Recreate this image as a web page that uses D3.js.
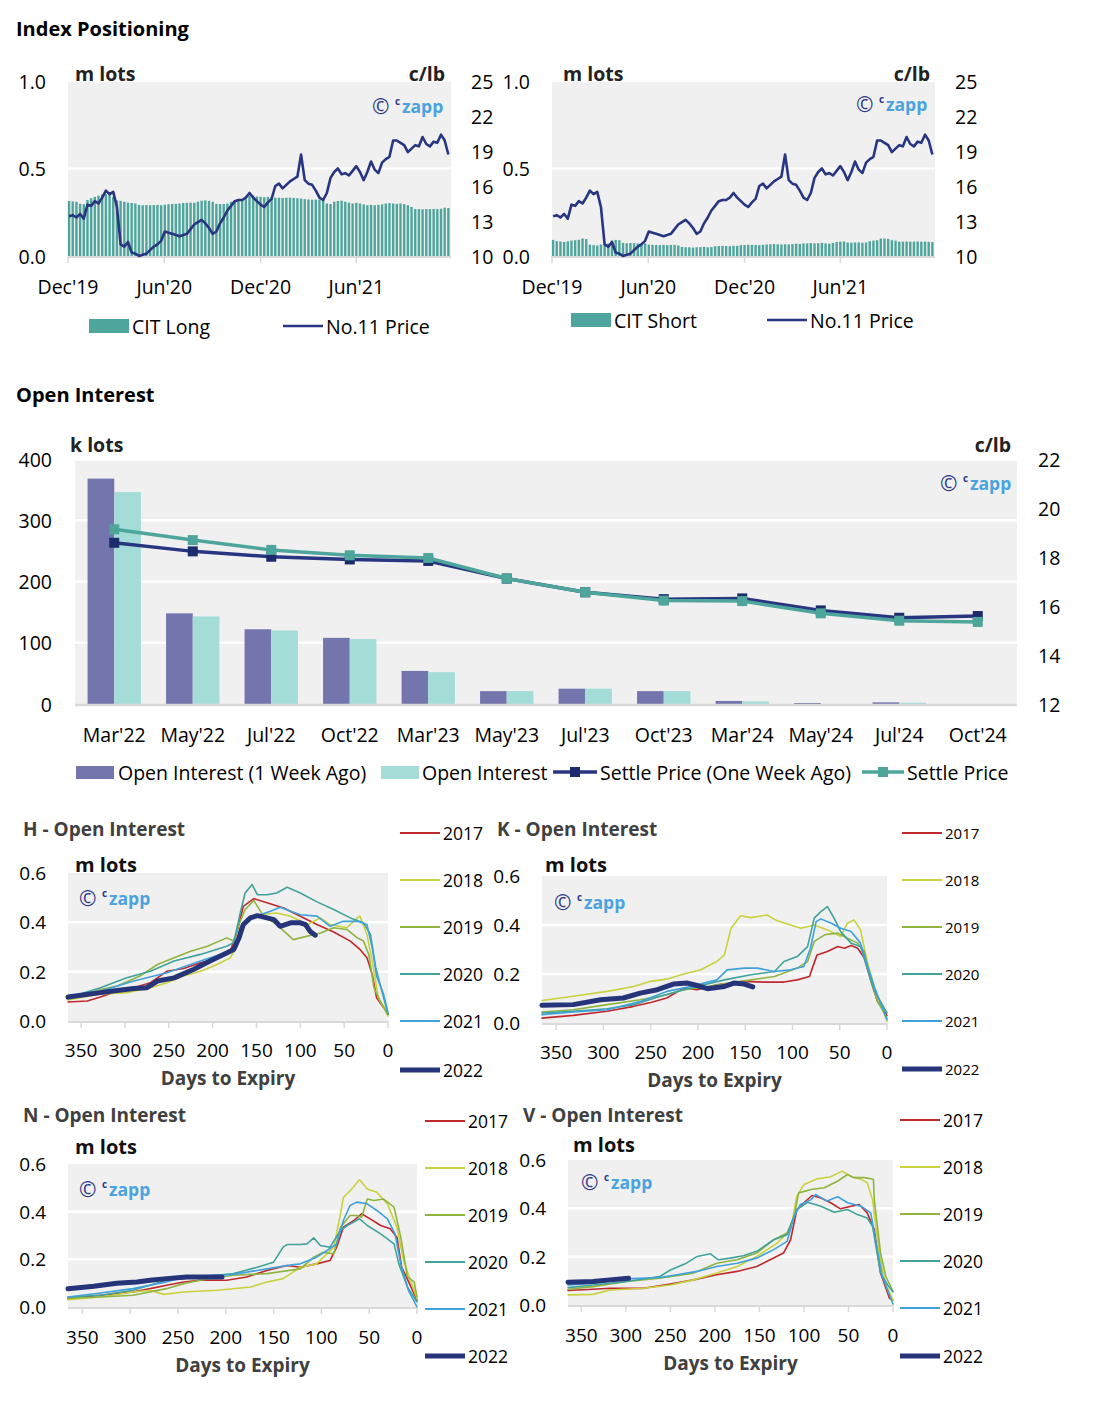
<!DOCTYPE html>
<html><head><meta charset="utf-8">
<script src="https://cdn.jsdelivr.net/npm/d3@7"></script>
<style>body{margin:0;background:#fff;} svg text{font-family:"Open Sans",sans-serif;}</style>
</head><body>
<svg id="c" width="1094" height="1402"></svg>
<script>
// ---------------- DATA ----------------
const weekStart = new Date(2019, 11, 3);
const topTickDates = [new Date(2019,11,1), new Date(2020,5,1), new Date(2020,11,1), new Date(2021,5,1)];
const topTickLabels = ["Dec'19","Jun'20","Dec'20","Jun'21"];

const no11Price = [13.4,13.5,13.3,13.6,13.2,14.4,14.3,14.7,14.5,15.0,15.6,15.3,15.5,14.2,11.0,10.8,11.2,10.3,10.2,10.0,
10.1,10.2,10.5,10.8,11.0,11.3,12.1,12.0,11.9,11.8,11.7,11.8,11.9,12.3,12.7,12.9,13.1,12.8,12.4,11.9,
12.1,12.8,13.3,13.9,14.3,14.7,14.8,14.8,15.0,15.4,15.0,14.7,14.4,14.2,14.6,14.9,16.0,16.2,15.8,16.1,
16.4,16.6,16.8,18.7,16.5,16.2,16.1,15.6,15.0,14.8,15.4,16.7,17.2,17.5,17.0,17.1,16.9,17.3,17.7,17.2,
16.5,17.2,18.1,17.4,17.1,18.0,18.3,18.5,19.9,19.9,19.7,19.5,18.9,19.2,19.5,19.4,20.2,19.6,19.4,19.8,
19.7,20.4,19.9,18.7];

const citLong = [0.314,0.312,0.31,0.298,0.296,0.32,0.33,0.338,0.345,0.352,0.355,0.35,0.338,0.318,0.315,0.31,
0.305,0.303,0.3,0.292,0.29,0.291,0.29,0.291,0.292,0.29,0.293,0.296,0.297,0.298,0.3,0.303,0.304,0.305,0.304,0.31,
0.316,0.318,0.315,0.31,0.298,0.297,0.297,0.3,0.31,0.312,0.315,0.32,0.325,0.342,0.345,0.34,0.338,0.336,0.338,
0.334,0.333,0.333,0.332,0.333,0.333,0.332,0.33,0.328,0.325,0.323,0.322,0.322,0.323,0.32,0.3,0.297,0.31,0.314,
0.316,0.31,0.305,0.3,0.304,0.3,0.295,0.29,0.292,0.29,0.292,0.295,0.3,0.302,0.3,0.298,0.3,0.296,0.29,0.28,
0.268,0.268,0.267,0.268,0.268,0.269,0.268,0.27,0.276,0.274];

const citShort = [0.092,0.085,0.083,0.08,0.084,0.088,0.09,0.093,0.1,0.097,0.065,0.062,0.06,0.066,0.072,0.07,
0.088,0.092,0.09,0.075,0.072,0.074,0.073,0.072,0.07,0.072,0.065,0.064,0.063,0.062,0.063,0.062,0.063,0.064,0.06,
0.052,0.05,0.05,0.048,0.05,0.051,0.052,0.05,0.051,0.056,0.057,0.058,0.057,0.056,0.058,0.058,
0.062,0.063,0.064,0.063,0.063,0.062,0.064,0.066,0.067,0.068,0.067,0.066,0.067,0.066,0.068,0.07,0.069,
0.072,0.072,0.074,0.072,0.073,0.075,0.072,0.07,0.074,0.08,0.082,0.083,0.077,0.076,0.077,0.078,0.076,0.077,
0.085,0.088,0.09,0.1,0.1,0.098,0.09,0.088,0.082,0.082,0.083,0.082,0.082,0.083,0.082,0.082,0.081,0.08];

const oiCats = ["Mar'22","May'22","Jul'22","Oct'22","Mar'23","May'23","Jul'23","Oct'23","Mar'24","May'24","Jul'24","Oct'24"];
const oiWeekAgo = [368,148,122,108,54,21,25,21,5,1.6,2.7,0];
const oiNow = [346,143,120,106,52,21,25,21,4.2,0,2.2,0];
const settleWeekAgo = [18.58,18.23,18.01,17.9,17.84,17.12,16.56,16.28,16.31,15.82,15.52,15.59];
const settleNow = [19.13,18.69,18.29,18.07,17.96,17.12,16.56,16.22,16.2,15.7,15.4,15.35];

const years = ["2017","2018","2019","2020","2021","2022"];
const dteTicks = [350,300,250,200,150,100,50,0];

const h2017 = [[365,.077],[343,.081],[328,.097],[309,.121],[290,.135],[271,.155],[252,.202],[233,.213],[214,.236],[195,.253],[180,.283],[172,.364],[165,.465],[153,.496],[138,.479],[119,.458],[100,.425],[81,.391],[62,.361],[43,.324],[32,.29],[24,.256],[18,.189],[13,.094],[5,.054],[0,.027]];
const h2018 = [[365,.085],[328,.11],[298,.115],[271,.135],[252,.155],[233,.182],[214,.202],[195,.229],[180,.256],[172,.303],[167,.378],[157,.418],[146,.431],[127,.438],[111,.425],[92,.391],[77,.418],[66,.391],[47,.378],[35,.418],[32,.425],[24,.351],[16,.202],[11,.094],[0,.02]];
const h2019 = [[365,.088],[328,.128],[309,.142],[283,.182],[263,.229],[244,.256],[225,.283],[206,.303],[184,.337],[176,.324],[170,.391],[163,.452],[153,.488],[142,.425],[127,.391],[108,.33],[92,.344],[77,.357],[62,.378],[47,.371],[35,.337],[28,.324],[22,.27],[16,.135],[9,.081],[0,.027]];
const h2020 = [[365,.094],[328,.135],[298,.175],[271,.202],[244,.243],[214,.27],[184,.303],[176,.317],[169,.431],[163,.519],[155,.553],[149,.512],[138,.512],[127,.519],[115,.542],[100,.519],[81,.483],[62,.452],[43,.418],[28,.398],[20,.351],[14,.216],[7,.121],[0,.027]];
const h2021 = [[365,.101],[328,.121],[290,.162],[252,.196],[214,.243],[180,.283],[172,.303],[169,.378],[159,.418],[146,.431],[134,.445],[123,.461],[111,.445],[100,.431],[81,.425],[66,.384],[51,.404],[35,.404],[24,.391],[18,.297],[13,.182],[5,.108],[0,.034]];
const h2022 = [[365,.097],[328,.115],[309,.124],[290,.132],[275,.135],[263,.162],[244,.175],[222,.209],[203,.243],[184,.276],[176,.29],[170,.337],[165,.391],[157,.418],[149,.427],[138,.418],[130,.411],[123,.384],[111,.398],[100,.398],[94,.391],[89,.364],[83,.348]];

const k2017 = [[365,.02],[332,.031],[296,.048],[268,.068],[250,.084],[233,.102],[215,.143],[201,.136],[180,.156],[151,.17],[130,.167],[109,.167],[95,.176],[82,.19],[79,.224],[74,.278],[63,.292],[52,.312],[45,.305],[38,.316],[31,.305],[24,.265],[17,.17],[10,.088],[0,.031]];
const k2018 = [[365,.092],[332,.109],[296,.129],[268,.149],[250,.17],[233,.179],[215,.2],[197,.217],[180,.251],[172,.278],[165,.387],[155,.438],[144,.43],[127,.441],[116,.417],[102,.4],[91,.387],[77,.4],[63,.38],[49,.353],[42,.407],[35,.421],[28,.38],[21,.251],[13,.143],[0,.007]];
const k2019 = [[365,.045],[332,.054],[296,.075],[261,.095],[233,.115],[215,.136],[190,.149],[155,.17],[119,.19],[95,.224],[84,.251],[77,.333],[66,.36],[52,.367],[42,.346],[31,.326],[24,.292],[17,.17],[10,.088],[0,.02]];
const k2020 = [[365,.041],[332,.048],[296,.058],[268,.075],[243,.105],[222,.129],[201,.149],[172,.176],[144,.197],[119,.21],[109,.251],[95,.271],[84,.312],[77,.428],[70,.455],[63,.475],[56,.428],[49,.373],[38,.326],[28,.312],[21,.224],[13,.129],[0,.041]];
const k2021 = [[365,.034],[332,.045],[296,.054],[261,.088],[233,.129],[208,.149],[180,.176],[169,.217],[151,.224],[137,.224],[119,.21],[102,.217],[88,.231],[81,.305],[75,.414],[70,.425],[59,.407],[49,.387],[38,.373],[28,.326],[21,.238],[13,.143],[0,.014]];
const k2022 = [[365,.072],[332,.075],[303,.095],[279,.102],[261,.122],[243,.136],[226,.159],[211,.163],[201,.153],[190,.14],[172,.149],[162,.163],[151,.159],[142,.147]];

const n2017 = [[365,.035],[331,.049],[297,.063],[279,.077],[262,.091],[244,.105],[227,.112],[199,.112],[178,.126],[157,.153],[136,.174],[122,.167],[105,.181],[91,.195],[84,.251],[77,.335],[66,.363],[58,.391],[49,.37],[38,.342],[28,.328],[21,.293],[16,.167],[7,.091],[0,.028]];
const n2018 = [[365,.031],[331,.042],[297,.063],[279,.07],[265,.053],[244,.063],[209,.07],[174,.084],[157,.105],[140,.119],[122,.167],[105,.181],[87,.251],[80,.391],[77,.46],[70,.488],[60,.534],[52,.495],[42,.481],[31,.433],[21,.335],[14,.195],[7,.112],[0,.035]];
const n2019 = [[365,.038],[331,.042],[297,.049],[262,.077],[244,.098],[227,.112],[192,.133],[157,.14],[122,.16],[108,.209],[98,.23],[87,.223],[80,.335],[70,.384],[63,.384],[58,.377],[52,.453],[45,.447],[35,.453],[24,.419],[17,.293],[10,.126],[3,.105],[0,.042]];
const n2020 = [[365,.042],[331,.049],[297,.07],[262,.112],[227,.126],[192,.14],[167,.167],[150,.188],[140,.251],[136,.262],[122,.262],[115,.265],[108,.29],[101,.258],[91,.251],[80,.321],[73,.342],[60,.37],[52,.342],[38,.307],[24,.265],[19,.181],[10,.084],[0,.021]];
const n2021 = [[365,.042],[331,.059],[297,.077],[262,.105],[244,.126],[227,.13],[192,.137],[157,.16],[136,.174],[122,.181],[105,.209],[94,.237],[84,.265],[77,.363],[70,.426],[63,.44],[52,.433],[42,.405],[31,.37],[23,.307],[17,.181],[9,.07],[0,0]];
const n2022 = [[365,.077],[338,.087],[314,.1],[293,.105],[279,.112],[262,.119],[241,.126],[220,.126],[204,.126]];

const v2017 = [[365,.06],[337,.065],[318,.069],[280,.069],[250,.087],[224,.104],[198,.125],[175,.139],[153,.159],[138,.187],[123,.215],[115,.27],[108,.395],[100,.423],[91,.453],[81,.443],[70,.423],[59,.398],[47,.409],[38,.416],[29,.381],[21,.312],[14,.132],[4,.028],[0,.021]];
const v2018 = [[365,.042],[337,.044],[318,.062],[280,.069],[250,.083],[224,.104],[198,.132],[175,.159],[153,.201],[130,.256],[115,.312],[108,.45],[100,.499],[85,.522],[70,.531],[57,.554],[47,.531],[36,.52],[29,.506],[23,.436],[15,.201],[8,.083],[0,.021]];
const v2019 = [[365,.065],[337,.076],[299,.097],[262,.111],[224,.132],[198,.173],[175,.187],[153,.215],[134,.27],[119,.298],[111,.367],[106,.464],[92,.478],[77,.485],[62,.513],[51,.54],[44,.527],[32,.527],[22,.52],[21,.436],[14,.215],[8,.118],[0,.055]];
const v2020 = [[365,.072],[337,.083],[299,.097],[262,.118],[250,.145],[232,.173],[220,.201],[205,.212],[196,.187],[183,.194],[168,.204],[153,.222],[134,.27],[119,.291],[108,.395],[96,.425],[81,.409],[66,.384],[51,.395],[40,.374],[29,.36],[23,.326],[14,.132],[6,.083],[0,.055]];
const v2021 = [[365,.083],[337,.09],[299,.108],[262,.114],[243,.125],[220,.139],[198,.159],[175,.173],[153,.194],[134,.229],[119,.263],[111,.367],[104,.416],[92,.436],[87,.457],[74,.43],[62,.448],[51,.423],[36,.409],[25,.381],[19,.256],[12,.118],[0,.004]];
const v2022 = [[365,.094],[337,.097],[318,.104],[297,.111]];

// ---------------- STYLE ----------------
const C = {bg:'#f0f0f0', axis:'#d9d9d9', teal:'#4ea59b', navy:'#283580', purple:'#7475ad', lteal:'#a4ddd8', dnavy:'#1b2b6b'};
const yearColors = ['#c0282d','#c9d13c','#8fb43f','#3fa39b','#3ea1dd','#26347a'];

const svg = d3.select('#c');
function txt(g, x, y, s, o = {}) {
  return g.append('text').attr('x', x).attr('y', y).attr('dominant-baseline', 'central')
    .attr('text-anchor', o.anchor || 'start').attr('font-size', o.size || 19.5)
    .attr('font-weight', o.bold ? 700 : 400).attr('fill', o.fill || '#000')
    .attr('font-family', o.family || '"Open Sans",sans-serif').text(s);
}
function logo(g, x, y) {
  const f = '"Liberation Sans",Arial,sans-serif';
  g.append('text').attr('x', x - 1).attr('y', y + 1).attr('dominant-baseline', 'central').attr('font-size', 21)
    .attr('font-family', '"DejaVu Sans",sans-serif').attr('fill', '#2d3a8c').text('\u00A9');
  g.append('text').attr('x', x + 22).attr('y', y - 4).attr('dominant-baseline', 'central').attr('font-size', 10)
    .attr('font-weight', 700).attr('font-family', f).attr('fill', '#2d3a8c').text('c');
  g.append('text').attr('x', x + 29).attr('y', y + 1).attr('dominant-baseline', 'central').attr('font-size', 17.5)
    .attr('font-weight', 700).attr('font-family', f).attr('fill', '#4aa3df').text('zapp');
}

txt(svg, 16, 28, 'Index Positioning', {bold: true, size: 20, family: '"Liberation Sans",Arial,sans-serif'});
txt(svg, 16, 394, 'Open Interest', {bold: true, size: 20, family: '"Liberation Sans",Arial,sans-serif'});

// ---------------- TOP CHARTS ----------------
const weekDates = no11Price.map((_, i) => d3.timeDay.offset(weekStart, 7 * i));
function topChart(c) {
  const g = svg.append('g');
  const Y0 = 256, Y1 = 81;
  const x = d3.scaleTime().domain([new Date(2019,11,1), new Date(2021,10,28)]).range([c.x0, c.x1]);
  const yL = d3.scaleLinear().domain([0, 1]).range([Y0, Y1]);
  const yR = d3.scaleLinear().domain([10, 25]).range([Y0, Y1]);
  g.append('rect').attr('x', c.x0).attr('y', Y1 + 1).attr('width', c.x1 - c.x0).attr('height', Y0 - Y1 - 1).attr('fill', C.bg);
  g.append('line').attr('x1', c.x0).attr('x2', c.x1).attr('y1', yL(0.5)).attr('y2', yL(0.5)).attr('stroke', '#fff').attr('stroke-width', 2);
  g.selectAll('rect.bar').data(c.bars).join('rect').attr('class', 'bar')
    .attr('x', (d, i) => x(weekDates[i]) - 1.2).attr('width', 2.4)
    .attr('y', d => yL(d)).attr('height', d => yL(0) - yL(d)).attr('fill', C.teal);
  g.append('line').attr('x1', c.x0).attr('x2', c.x1).attr('y1', Y0 + 1).attr('y2', Y0 + 1).attr('stroke', C.axis).attr('stroke-width', 2);
  g.selectAll('line.tk').data(topTickDates).join('line').attr('class', 'tk')
    .attr('x1', d => x(d)).attr('x2', d => x(d)).attr('y1', Y0).attr('y2', Y0 + 7).attr('stroke', C.axis).attr('stroke-width', 1.5);
  g.append('path').datum(no11Price).attr('fill', 'none').attr('stroke', C.navy).attr('stroke-width', 2.6)
    .attr('stroke-linejoin', 'round')
    .attr('d', d3.line().x((d, i) => x(weekDates[i])).y(d => yR(d)));
  topTickDates.forEach((d, i) => txt(g, x(d), 286, topTickLabels[i], {anchor: 'middle'}));
  [0, 0.5, 1].forEach(v => txt(g, c.lAx, yL(v), d3.format('.1f')(v), {anchor: 'end'}));
  [10, 13, 16, 19, 22, 25].forEach(v => txt(g, c.rAx, yR(v), v));
  txt(g, c.mx, 73, 'm lots', {bold: true, fill: '#222'});
  txt(g, c.cx, 73, 'c/lb', {bold: true, anchor: 'end', fill: '#222'});
  logo(g, c.logoX, c.logoY);
  g.append('rect').attr('x', c.legX).attr('y', c.legY - 7).attr('width', 40).attr('height', 14).attr('fill', C.teal);
  txt(g, c.legX + 43, c.legY, c.legLabel);
  g.append('line').attr('x1', c.legX2).attr('x2', c.legX2 + 40).attr('y1', c.legY).attr('y2', c.legY).attr('stroke', C.navy).attr('stroke-width', 2.6);
  txt(g, c.legX2 + 43, c.legY, 'No.11 Price');
}
topChart({x0: 68, x1: 451, bars: citLong, lAx: 46, rAx: 471, mx: 75, cx: 445, logoX: 373, logoY: 105, legX: 89, legX2: 283, legY: 326, legLabel: 'CIT Long'});
topChart({x0: 552, x1: 935, bars: citShort, lAx: 530, rAx: 955, mx: 563, cx: 930, logoX: 857, logoY: 103, legX: 571, legX2: 767, legY: 320, legLabel: 'CIT Short'});

// ---------------- OPEN INTEREST ----------------
(function () {
  const g = svg.append('g');
  const Y0 = 704, Y1 = 459;
  const x = d3.scaleBand().domain(oiCats).range([75, 1017]).paddingInner(0.32).paddingOuter(0.16);
  const xs = d3.scaleBand().domain(['a', 'b']).range([0, x.bandwidth()]);
  const yL = d3.scaleLinear().domain([0, 400]).range([Y0, Y1]);
  const yR = d3.scaleLinear().domain([12, 22]).range([Y0, Y1]);
  g.append('rect').attr('x', 75).attr('y', Y1 + 2).attr('width', 942).attr('height', Y0 - Y1 - 2).attr('fill', C.bg);
  [100, 200, 300].forEach(v => g.append('line').attr('x1', 75).attr('x2', 1017).attr('y1', yL(v)).attr('y2', yL(v)).attr('stroke', '#fff').attr('stroke-width', 2.5));
  g.selectAll('rect.a').data(oiWeekAgo).join('rect').attr('x', (d, i) => x(oiCats[i]) + xs('a')).attr('width', xs.bandwidth())
    .attr('y', d => yL(d)).attr('height', d => yL(0) - yL(d)).attr('fill', C.purple);
  g.selectAll('rect.b').data(oiNow).join('rect').attr('x', (d, i) => x(oiCats[i]) + xs('b')).attr('width', xs.bandwidth())
    .attr('y', d => yL(d)).attr('height', d => yL(0) - yL(d)).attr('fill', C.lteal);
  g.append('line').attr('x1', 75).attr('x2', 1017).attr('y1', Y0 + 1).attr('y2', Y0 + 1).attr('stroke', C.axis).attr('stroke-width', 2.5);
  const cx = i => x(oiCats[i]) + x.bandwidth() / 2;
  [[settleWeekAgo, C.dnavy, '#283580'], [settleNow, C.teal, C.teal]].forEach(([arr, mc, lc]) => {
    g.append('path').datum(arr).attr('fill', 'none').attr('stroke', lc).attr('stroke-width', 3.5)
      .attr('d', d3.line().x((d, i) => cx(i)).y(d => yR(d)));
    g.selectAll(null).data(arr).join('rect').attr('x', (d, i) => cx(i) - 5).attr('y', d => yR(d) - 5)
      .attr('width', 10).attr('height', 10).attr('fill', mc);
  });
  oiCats.forEach((c, i) => txt(g, cx(i), 734, c, {anchor: 'middle'}));
  [0, 100, 200, 300, 400].forEach(v => txt(g, 52, yL(v), v, {anchor: 'end'}));
  [12, 14, 16, 18, 20, 22].forEach(v => txt(g, 1038, yR(v), v));
  txt(g, 70, 444, 'k lots', {bold: true, fill: '#222'});
  txt(g, 1011, 444, 'c/lb', {bold: true, anchor: 'end', fill: '#222'});
  logo(g, 941, 482);
  const ly = 772;
  g.append('rect').attr('x', 76).attr('y', ly - 6).attr('width', 38).attr('height', 13).attr('fill', C.purple);
  txt(g, 118, ly, 'Open Interest (1 Week Ago)');
  g.append('rect').attr('x', 381).attr('y', ly - 6).attr('width', 38).attr('height', 13).attr('fill', C.lteal);
  txt(g, 422, ly, 'Open Interest');
  g.append('line').attr('x1', 553).attr('x2', 597).attr('y1', ly).attr('y2', ly).attr('stroke', '#283580').attr('stroke-width', 3.5);
  g.append('rect').attr('x', 570).attr('y', ly - 5).attr('width', 10).attr('height', 10).attr('fill', C.dnavy);
  txt(g, 600, ly, 'Settle Price (One Week Ago)');
  g.append('line').attr('x1', 862).attr('x2', 904).attr('y1', ly).attr('y2', ly).attr('stroke', C.teal).attr('stroke-width', 3.5);
  g.append('rect').attr('x', 878).attr('y', ly - 5).attr('width', 10).attr('height', 10).attr('fill', C.teal);
  txt(g, 907, ly, 'Settle Price');
})();

// ---------------- DAYS TO EXPIRY CHARTS ----------------
function dteChart(c) {
  const g = svg.append('g');
  const x = d3.scaleLinear().domain([365, 0]).range([c.x0, c.x1]);
  const y = d3.scaleLinear().domain([0, 0.6]).range([c.y0, c.y1]);
  g.append('rect').attr('x', c.x0).attr('y', c.y1).attr('width', c.x1 - c.x0).attr('height', c.y0 - c.y1).attr('fill', C.bg);
  [0.2, 0.4].forEach(v => g.append('line').attr('x1', c.x0).attr('x2', c.x1).attr('y1', y(v)).attr('y2', y(v)).attr('stroke', '#fff').attr('stroke-width', 2.5));
  g.append('line').attr('x1', c.x0).attr('x2', c.x1).attr('y1', c.y0 + 1).attr('y2', c.y0 + 1).attr('stroke', C.axis).attr('stroke-width', 2);
  g.selectAll('line.tk').data(dteTicks).join('line').attr('class', 'tk')
    .attr('x1', d => x(d)).attr('x2', d => x(d)).attr('y1', c.y0).attr('y2', c.y0 + 7).attr('stroke', C.axis).attr('stroke-width', 1.5);
  logo(g, c.logoX, c.logoY);
  const line = d3.line().x(d => x(d[0])).y(d => y(d[1])).curve(d3.curveLinear);
  c.series.forEach((s, i) => {
    g.append('path').datum(s).attr('fill', 'none').attr('stroke', yearColors[i])
      .attr('stroke-width', i === 5 ? 5 : 1.6).attr('stroke-linejoin', 'round').attr('stroke-linecap', 'round').attr('d', line);
  });
  dteTicks.forEach(v => txt(g, x(v), c.xLabY, v, {anchor: 'middle', size: 19}));
  [0, 0.2, 0.4, 0.6].forEach(v => txt(g, c.yAx, y(v), d3.format('.1f')(v), {anchor: 'end', size: 19}));
  txt(g, (c.x0 + c.x1) / 2, c.xLabY + 28, 'Days to Expiry', {anchor: 'middle', bold: true, fill: '#404040', size: 19});
  txt(g, c.tx, c.ty, c.title, {bold: true, fill: '#404040', size: 19});
  txt(g, c.mx, c.my, 'm lots', {bold: true, fill: '#111', size: 20});
  years.forEach((yr, i) => {
    const ly = c.legY[i];
    g.append('line').attr('x1', c.lx).attr('x2', c.lx + 40).attr('y1', ly).attr('y2', ly)
      .attr('stroke', yearColors[i]).attr('stroke-width', i === 5 ? 5 : 2);
    txt(g, c.lx + 43, ly, yr, {size: c.legSize});
  });
}
dteChart({x0: 68, x1: 388, y0: 1021, y1: 873, yAx: 46, xLabY: 1050, title: 'H - Open Interest', tx: 23, ty: 829, mx: 75, my: 864,
  logoX: 80, logoY: 897, lx: 400, legY: [833, 880, 927, 974, 1021, 1070], legSize: 17.5, series: [h2017, h2018, h2019, h2020, h2021, h2022]});
dteChart({x0: 542, x1: 887, y0: 1023, y1: 876, yAx: 520, xLabY: 1052, title: 'K - Open Interest', tx: 497, ty: 829, mx: 545, my: 864,
  logoX: 555, logoY: 901, lx: 902, legY: [833, 880, 927, 974, 1021, 1069], legSize: 15, series: [k2017, k2018, k2019, k2020, k2021, k2022]});
dteChart({x0: 68, x1: 417, y0: 1307, y1: 1164, yAx: 46, xLabY: 1337, title: 'N - Open Interest', tx: 23, ty: 1115, mx: 75, my: 1146,
  logoX: 80, logoY: 1188, lx: 425, legY: [1121, 1168, 1215, 1262, 1309, 1356], legSize: 17.5, series: [n2017, n2018, n2019, n2020, n2021, n2022]});
dteChart({x0: 568, x1: 893, y0: 1305, y1: 1160, yAx: 546, xLabY: 1335, title: 'V - Open Interest', tx: 523, ty: 1115, mx: 573, my: 1144,
  logoX: 582, logoY: 1181, lx: 900, legY: [1120, 1167, 1214, 1261, 1308, 1356], legSize: 17.5, series: [v2017, v2018, v2019, v2020, v2021, v2022]});
</script>
</body></html>
